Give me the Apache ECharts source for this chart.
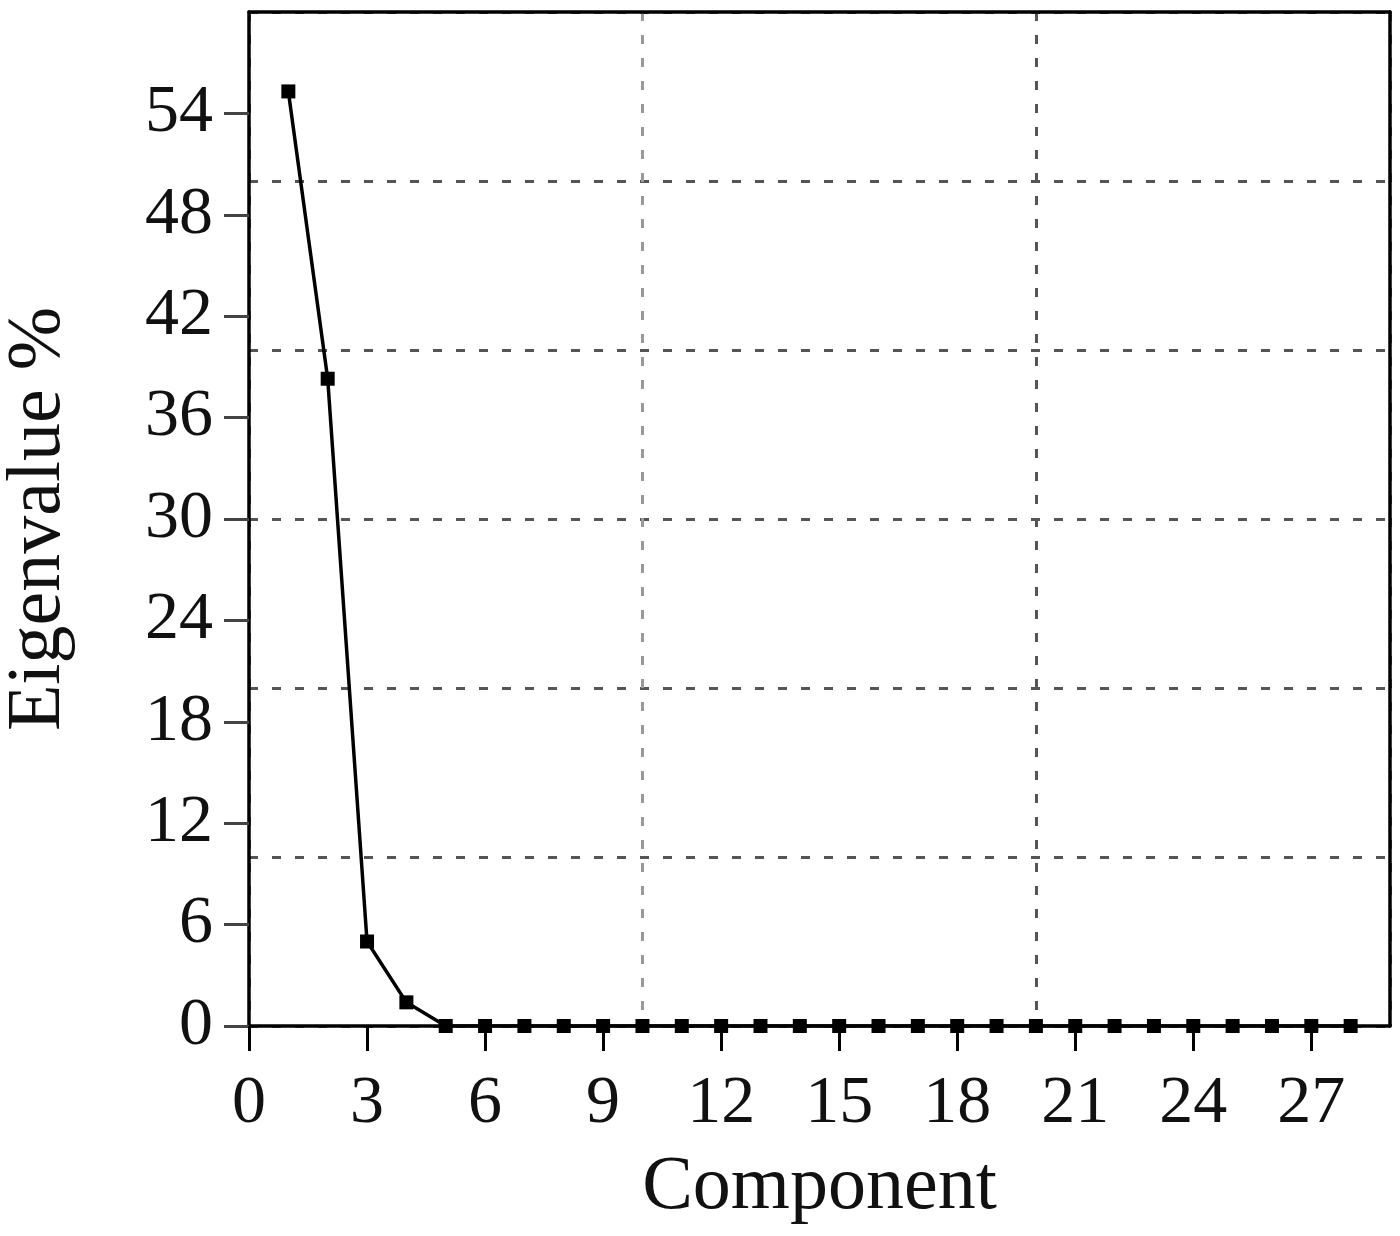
<!DOCTYPE html>
<html>
<head>
<meta charset="utf-8">
<script src="https://cdn.jsdelivr.net/npm/echarts@6/dist/echarts.min.js"></script>
<style>
  html, body { margin: 0; padding: 0; background: #fff; }
  #screeChart { width: 1400px; height: 1236px; }
</style>
</head>
<body>
<div id="screeChart"></div>
<script>
// component numbers and eigenvalue percentages
const components = [1, 2, 3, 4, 5, 6, 7, 8, 9, 10, 11, 12, 13, 14, 15, 16, 17, 18, 19, 20, 21, 22, 23, 24, 25, 26, 27, 28];
const eigenvalues = [55.3, 38.3, 5.0, 1.4, 0, 0, 0, 0, 0, 0, 0, 0, 0, 0, 0, 0, 0, 0, 0, 0, 0, 0, 0, 0, 0, 0, 0, 0];
const xTicks = [0, 3, 6, 9, 12, 15, 18, 21, 24, 27];
const yTicks = [0, 6, 12, 18, 24, 30, 36, 42, 48, 54];

const font = "'Liberation Serif', 'Times New Roman', serif";
const chart = echarts.init(document.getElementById('screeChart'));

const points = components.map((c, i) => [c, eigenvalues[i]]);

const option = {
  backgroundColor: '#fff',
  animation: false,
  grid: {
    left: 249,
    right: 10,
    top: 12,
    bottom: 210,
    outerBoundsMode: 'none'
  },
  xAxis: [
    {
      type: 'value',
      min: 0,
      max: 29,
      position: 'bottom',
      name: 'Component',
      nameLocation: 'middle',
      nameGap: 124,
      nameTextStyle: { fontFamily: font, fontSize: 76, color: '#111' },
      axisLine: { show: true, onZero: false, lineStyle: { color: '#000', width: 3.5 } },
      axisTick: {
        show: true,
        length: 25,
        customValues: xTicks,
        lineStyle: { color: '#000', width: 3 }
      },
      axisLabel: {
        customValues: xTicks,
        margin: 44,
        fontFamily: font,
        fontSize: 68,
        color: '#111'
      },
      splitLine: { show: false }
    },
    {
      type: 'value',
      min: 0,
      max: 29,
      interval: 10,
      position: 'top',
      axisLine: { show: true, onZero: false, lineStyle: { color: '#000', width: 3.5 } },
      axisTick: { show: false },
      axisLabel: { show: false },
      splitLine: {
        show: true,
        lineStyle: { color: ['#666', '#999', '#555'], width: 3, type: [9, 14] }
      }
    }
  ],
  yAxis: [
    {
      type: 'value',
      min: 0,
      max: 60,
      position: 'left',
      name: 'Eigenvalue %',
      nameLocation: 'middle',
      nameGap: 172,
      nameTextStyle: { fontFamily: font, fontSize: 76, color: '#111' },
      axisLine: { show: true, onZero: false, lineStyle: { color: '#000', width: 3.5 } },
      axisTick: {
        show: true,
        length: 25,
        customValues: yTicks,
        lineStyle: { color: '#444', width: 3 }
      },
      axisLabel: {
        customValues: yTicks,
        margin: 36,
        fontFamily: font,
        fontSize: 68,
        color: '#111'
      },
      splitLine: { show: false }
    },
    {
      type: 'value',
      min: 0,
      max: 60,
      interval: 10,
      position: 'right',
      axisLine: { show: true, onZero: false, lineStyle: { color: '#000', width: 3.5 } },
      axisTick: { show: false },
      axisLabel: { show: false },
      splitLine: {
        show: true,
        lineStyle: { color: '#555', width: 3, type: [9, 14] }
      }
    }
  ],
  series: [
    {
      type: 'line',
      data: points,
      xAxisIndex: 0,
      yAxisIndex: 0,
      symbol: 'rect',
      symbolSize: 14,
      lineStyle: { color: '#000', width: 3.5 },
      itemStyle: { color: '#000' },
      z: 5
    }
  ]
};

chart.setOption(option);
</script>
</body>
</html>
